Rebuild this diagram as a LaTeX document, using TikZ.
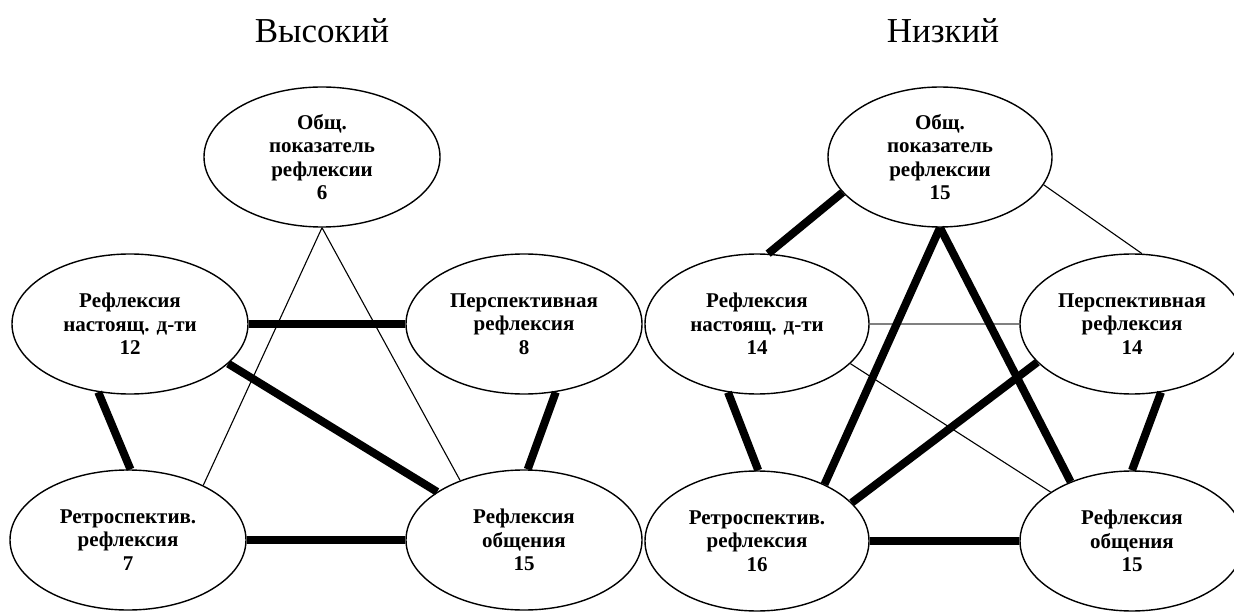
\documentclass[tikz,border=0pt]{standalone}
\usepackage{fontspec}
\setmainfont{Liberation Serif}
\usetikzlibrary{shapes.geometric}

\begin{document}
\begin{tikzpicture}[x=1pt, y=-1pt]
\tikzset{every node/.style={font=\bfseries\fontsize{21}{23.5}\selectfont, align=center}}
\tikzset{refl/.style={draw, ellipse, line width=1.4pt, inner sep=0pt,
  minimum width=236pt, minimum height=140pt}}
\tikzset{narrow/.style={minimum width=224pt}}
\tikzset{strong/.style={line width=8pt}}
\tikzset{weak/.style={line width=1.1pt}}
\tikzset{title/.style={anchor=base, font=\fontsize{35}{40}\selectfont}}
\useasboundingbox (0,0) rectangle (1234,612);

% high level
\node[title] (hightitle) at (322,43) {Высокий};
\node[refl] (hgen) at (322,157) {Общ.\\показатель\\рефлексии\\6};
\node[refl] (hpres) at (130,324) {Рефлексия\\настоящ. д-ти\\12};
\node[refl] (hpersp) at (524,324) {Перспективная\\рефлексия\\8};
\node[refl] (hretro) at (128,540) {Ретроспектив.\\рефлексия\\7};
\node[refl] (hcomm) at (524,540) {Рефлексия\\общения\\15};

\draw[weak] (hgen.south) -- (hretro.36);
\draw[weak] (hgen.south) -- (hcomm.137);
\draw[strong] (hpres) -- (hpersp);
\draw[strong] (hpres.-22) -- (hcomm.151);
\draw[strong] (hpres.245) -- (hretro.88);
\draw[strong] (hpersp.-65) -- (hcomm.87);
\draw[strong] (hretro) -- (hcomm);

% low level
\node[title] (lowtitle) at (943,43) {Низкий};
\node[refl, narrow] (lgen) at (940,157) {Общ.\\показатель\\рефлексии\\15};
\node[refl, narrow] (lpres) at (757,324) {Рефлексия\\настоящ. д-ти\\14};
\node[refl, narrow] (lpersp) at (1132,324) {Перспективная\\рефлексия\\14};
\node[refl, narrow] (lretro) at (757,541) {Ретроспектив.\\рефлексия\\16};
\node[refl, narrow] (lcomm) at (1132,541) {Рефлексия\\общения\\15};

\draw[strong] (lgen.200) -- (lpres.81);
\draw[weak] (lgen.-15) -- (lpersp.82);
\draw[weak, gray] (lpres) -- (lpersp);
\draw[weak] (lpres.-23) -- (lcomm.149);
\draw[strong] (lpres.247) -- (lretro.89);
\draw[strong] (lgen.south) -- (lretro.40);
\draw[strong] (lgen.south) -- (lcomm.136);
\draw[strong] (lpersp.202) -- (lretro.22);
\draw[strong] (lpersp.-67) -- (lcomm.90);
\draw[strong] (lretro) -- (lcomm);
\end{tikzpicture}
\end{document}
